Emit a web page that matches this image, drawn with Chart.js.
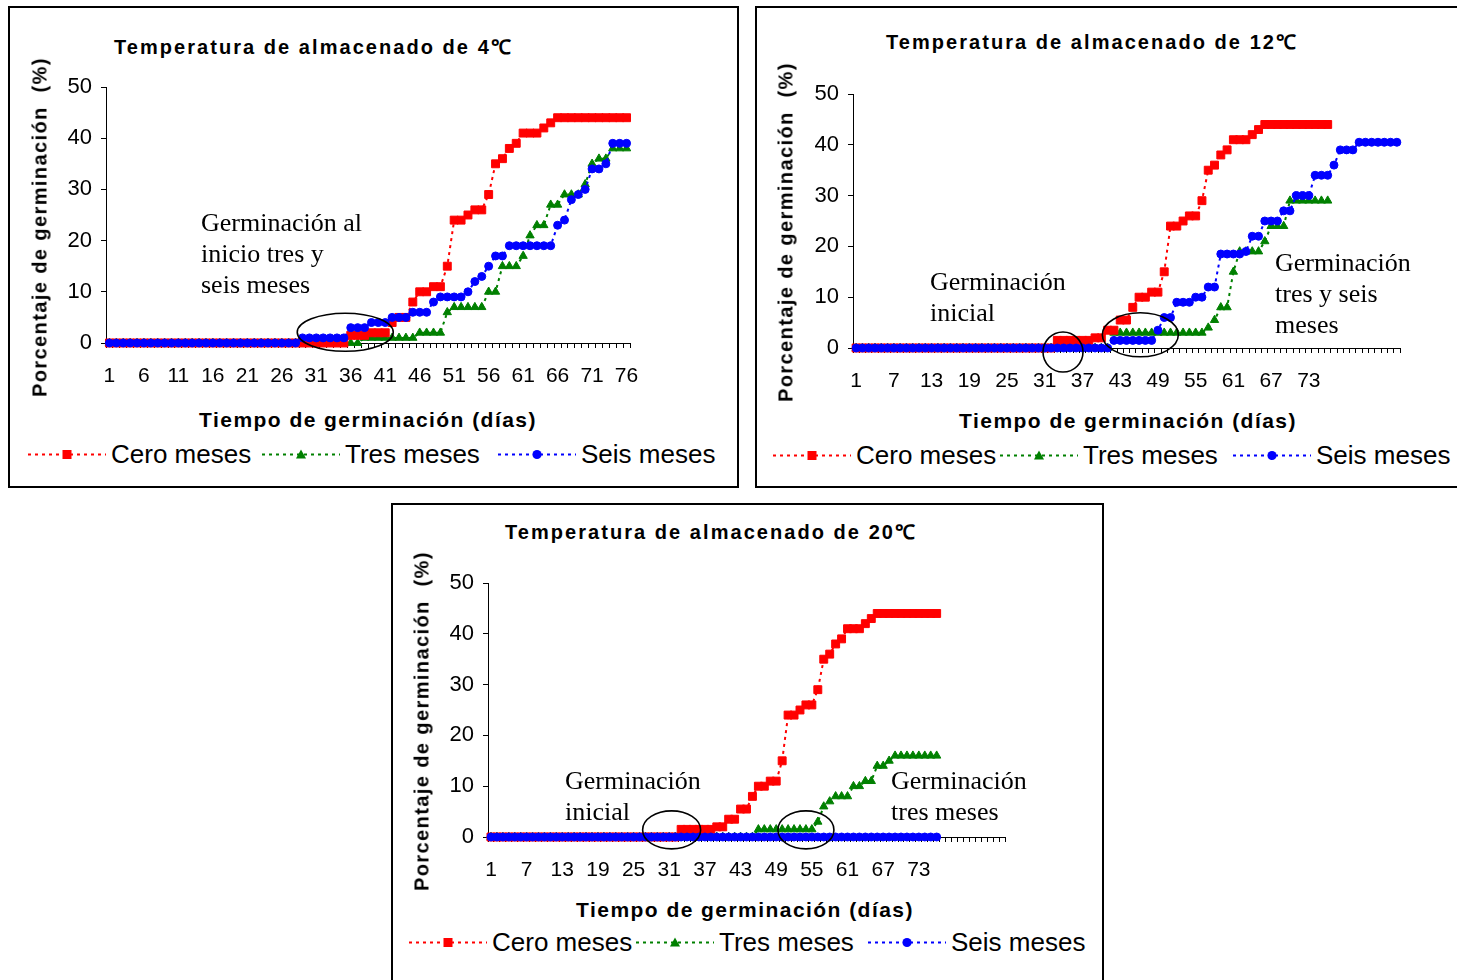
<!DOCTYPE html>
<html lang="es">
<head>
<meta charset="utf-8">
<title>Porcentaje de germinación</title>
<script src="https://cdn.jsdelivr.net/npm/chart.js@4.4.1/dist/chart.umd.min.js"></script>
<style>
  html, body { margin: 0; padding: 0; background: #fff; }
  body { width: 1457px; height: 980px; position: relative; overflow: hidden; font-family: 'Liberation Sans', Arial, sans-serif; color: #000; }
  .caja { position: absolute; border: 2px solid #000; box-sizing: border-box; }
  .lienzo { position: absolute; }
  .titulo { position: absolute; font-weight: bold; font-size: 20px; letter-spacing: 2.05px; white-space: nowrap; transform: translateY(-50%); }
  .ejeX { position: absolute; font-weight: bold; font-size: 21px; letter-spacing: 1.45px; white-space: nowrap; transform: translate(-50%, -50%); }
  .ejeY { position: absolute; font-weight: bold; font-size: 20px; letter-spacing: 1.4px; white-space: pre; transform: translate(-50%, -50%) rotate(-90deg); }
  .nota { position: absolute; font-family: 'Liberation Serif', 'Times New Roman', serif; font-size: 26px; line-height: 31px; white-space: nowrap; }
  .item { position: absolute; display: flex; align-items: center; font-size: 26px; white-space: nowrap; transform: translateY(-50%); }
  .item svg { margin-right: 5px; }
</style>
</head>
<body>
<div class="caja" style="left:8px; top:6px; width:731px; height:482px;"></div>
<div class="caja" style="left:755px; top:6px; width:720px; height:482px;"></div>
<div class="caja" style="left:391px; top:503px; width:713px; height:490px;"></div>

<script>
// dias de germinacion (categorias)
const dias4C = Array.from({ length: 76 }, (_, i) => String(i + 1));
const dias12C = Array.from({ length: 87 }, (_, i) => String(i + 1));
const dias20C = Array.from({ length: 87 }, (_, i) => String(i + 1));

// etiquetas visibles del eje X
const etiquetas4C = ['1', '6', '11', '16', '21', '26', '31', '36', '41', '46', '51', '56', '61', '66', '71', '76'];
const etiquetas12C = ['1', '7', '13', '19', '25', '31', '37', '43', '49', '55', '61', '67', '73'];
const etiquetas20C = ['1', '7', '13', '19', '25', '31', '37', '43', '49', '55', '61', '67', '73'];

const nombres = ['Cero meses', 'Tres meses', 'Seis meses'];

// 4 C
const cero4C = [0,0,0,0,0,0,0,0,0,0, 0,0,0,0,0,0,0,0,0,0, 0,0,0,0,0,0,0,0,0,0, 0,0,0,0,0,
  1.5,1.5,1.5, 2,2,2, 4,5,5, 8,10,10,11,11,15, 24,24,25,26,26,29,35,36,38,39,
  41,41,41,42,43, 44,44,44,44,44,44,44,44,44,44,44];
const tres4C = [0,0,0,0,0,0,0,0,0,0, 0,0,0,0,0,0,0,0,0,0, 0,0,0,0,0,0,0,0,0,0, 0,0,0,0,0,0,0,
  1,1,1,1,1,1,1,1, 2,2,2,2, 6, 7,7,7,7,7, 10,10, 15,15,15, 17, 21, 23,23, 27,27,
  29,29,29, 31, 35, 36,36, 38,38,38];
const seis4C = [0,0,0,0,0,0,0,0,0,0, 0,0,0,0,0,0,0,0,0,0, 0,0,0,0,0,0,0,0,
  1,1,1,1,1,1,1, 3,3,3, 4,4,4, 5,5,5, 6,6,6, 8, 9,9,9,9, 10, 12, 13, 15, 17,17,
  19,19,19,19,19,19,19, 23, 24, 28, 29, 30, 34, 34, 35, 39,39,39];

// 12 C
const cero12C = [0,0,0,0,0,0,0,0,0,0, 0,0,0,0,0,0,0,0,0,0, 0,0,0,0,0,0,0,0,0,0, 0,0,
  1.5,1.5,1.5,1.5,1.5,1.5, 2,2, 3.5,3.5, 5.5,5.5, 8, 10,10, 11,11, 15, 24,24, 25, 26,26,
  29, 35, 36, 38, 39, 41,41,41, 42, 43, 44,44,44,44,44,44,44,44,44,44,44];
const tres12C = [0,0,0,0,0,0,0,0,0,0, 0,0,0,0,0,0,0,0,0,0, 0,0,0,0,0,0,0,0,0,0, 0,0,0,0,0,0,0,0,0,0, 0,
  3,3,3,3,3,3,3,3,3,3,3,3,3,3,3, 4, 5.5, 8,8, 15, 19,19,19,19, 21, 24,24,24,
  29,29,29,29,29,29,29];
const seis12C = [0,0,0,0,0,0,0,0,0,0, 0,0,0,0,0,0,0,0,0,0, 0,0,0,0,0,0,0,0,0,0, 0,0,0,0,0,0,0,0,0,0, 0,
  1.5,1.5,1.5,1.5,1.5,1.5,1.5, 3.5, 6,6, 9,9,9, 10,10, 12,12, 18.5,18.5,18.5,18.5, 19,
  22,22, 25,25,25, 27,27, 30,30,30, 34,34,34, 36, 39,39,39,
  40.5,40.5,40.5,40.5,40.5,40.5,40.5];

// 20 C
const cero20C = [0,0,0,0,0,0,0,0,0,0, 0,0,0,0,0,0,0,0,0,0, 0,0,0,0,0,0,0,0,0,0, 0,0,
  1.5,1.5,1.5,1.5,1.5,1.5, 2,2, 3.5,3.5, 5.5,5.5, 8, 10,10, 11,11, 15, 24,24, 25, 26,26,
  29, 35, 36, 38, 39, 41,41,41, 42, 43, 44,44,44,44,44,44,44,44,44,44,44];
const tres20C = [0,0,0,0,0,0,0,0,0,0, 0,0,0,0,0,0,0,0,0,0, 0,0,0,0,0,0,0,0,0,0, 0,0,0,0,0,0,0,0,0,0, 0,0,0,0,0,
  1.5,1.5,1.5,1.5,1.5,1.5,1.5,1.5,1.5,1.5, 3, 6, 7, 8,8,8, 10,10, 11,11, 14,14, 15,
  16,16,16,16,16,16,16,16];
const seis20C = [0,0,0,0,0,0,0,0,0,0, 0,0,0,0,0,0,0,0,0,0, 0,0,0,0,0,0,0,0,0,0,
  0,0,0,0,0,0,0,0,0,0, 0,0,0,0,0,0,0,0,0,0, 0,0,0,0,0,0,0,0,0,0,
  0,0,0,0,0,0,0,0,0,0, 0,0,0,0,0,0];

// estilo de cada serie
const estilos = [
  { color: '#FF0000', punto: 'rect', radio: 5.6, orden: 1 },
  { color: '#008000', punto: 'triangle', radio: 4.8, orden: 2 },
  { color: '#0000FF', punto: 'circle', radio: 4, orden: 0 }
];

const fuente = "'Liberation Sans', Arial, sans-serif";

function pluginElipses(lista) {
  return {
    id: 'elipses',
    afterDatasetsDraw(chart) {
      const { ctx, scales: { x, y } } = chart;
      lista.forEach(e => {
        ctx.save();
        ctx.beginPath();
        ctx.ellipse(x.getPixelForValue(e.dia - 1), y.getPixelForValue(e.valor), e.rx, e.ry, 0, 0, Math.PI * 2);
        ctx.lineWidth = 1.6;
        ctx.strokeStyle = '#000';
        ctx.stroke();
        ctx.restore();
      });
    }
  };
}

function agregar(html) {
  document.body.insertAdjacentHTML('beforeend', html);
}

function muestra(i) {
  const c = estilos[i].color;
  let marca;
  if (i === 0) marca = `<rect x="34.5" y="5.5" width="9" height="9" fill="${c}"/>`;
  else if (i === 1) marca = `<polygon points="39,5 44,14 34,14" fill="${c}"/>`;
  else marca = `<circle cx="39" cy="10" r="4.6" fill="${c}"/>`;
  return `<svg width="78" height="20"><line x1="0" y1="10" x2="78" y2="10" stroke="${c}" stroke-width="2" stroke-dasharray="3,4"/>${marca}</svg>`;
}

function crearGrafico(cfg) {
  const izq = 70, arriba = 25, der = 30, abajo = 55;
  const canvas = document.createElement('canvas');
  canvas.className = 'lienzo';
  canvas.width = cfg.area.r - cfg.area.l + izq + der;
  canvas.height = cfg.area.b - cfg.area.t + arriba + abajo;
  canvas.style.left = (cfg.area.l - izq) + 'px';
  canvas.style.top = (cfg.area.t - arriba) + 'px';
  document.body.appendChild(canvas);

  new Chart(canvas, {
    type: 'line',
    data: {
      labels: cfg.dias,
      datasets: cfg.series.map((s, i) => ({
        label: nombres[i],
        data: s,
        borderColor: estilos[i].color,
        backgroundColor: estilos[i].color,
        borderWidth: 2,
        borderDash: [3, 4],
        pointStyle: estilos[i].punto,
        pointRadius: estilos[i].radio,
        pointHoverRadius: estilos[i].radio,
        pointBackgroundColor: estilos[i].color,
        pointBorderColor: estilos[i].color,
        pointBorderWidth: 1,
        fill: false,
        tension: 0,
        clip: false,
        order: estilos[i].orden
      }))
    },
    options: {
      responsive: false,
      animation: false,
      events: [],
      layout: { padding: { top: arriba, right: der, left: 0, bottom: 0 } },
      plugins: { legend: { display: false }, title: { display: false }, tooltip: { enabled: false } },
      scales: {
        x: {
          type: 'category',
          offset: true,
          afterFit: s => { s.height = abajo; },
          grid: { display: true, drawOnChartArea: false, offset: true, tickLength: 5, color: '#000', lineWidth: 1 },
          border: { display: true, color: '#000', width: 1 },
          ticks: {
            autoSkip: false, maxRotation: 0, minRotation: 0, padding: 16, color: '#000',
            font: { family: fuente, size: 21 },
            callback: function (v) {
              const t = this.getLabelForValue(v);
              return cfg.mostrar.includes(t) ? t : '';
            }
          }
        },
        y: {
          min: 0, max: 50,
          afterFit: s => { s.width = izq; },
          grid: { display: true, drawOnChartArea: false, tickLength: 5, color: '#000', lineWidth: 1 },
          border: { display: true, color: '#000', width: 1 },
          ticks: { stepSize: 10, padding: 9, color: '#000', font: { family: fuente, size: 22 } }
        }
      }
    },
    plugins: [pluginElipses(cfg.elipses)]
  });

  // textos
  agregar(`<div class="titulo" style="left:${cfg.titulo.x}px; top:${cfg.titulo.y}px;">${cfg.titulo.texto}</div>`);
  agregar(`<div class="ejeY" style="left:${cfg.ejeY.x}px; top:${cfg.ejeY.y}px;">Porcentaje de germinación  (%)</div>`);
  agregar(`<div class="ejeX" style="left:${cfg.ejeX.x}px; top:${cfg.ejeX.y}px;">Tiempo de germinación (días)</div>`);
  cfg.leyenda.xs.forEach((lx, i) => {
    agregar(`<div class="item" style="left:${lx}px; top:${cfg.leyenda.y}px;">${muestra(i)}<span>${nombres[i]}</span></div>`);
  });
  cfg.notas.forEach(n => {
    agregar(`<div class="nota" style="left:${n.x}px; top:${n.y}px;">${n.lineas.join('<br>')}</div>`);
  });
}

crearGrafico({
  dias: dias4C, mostrar: etiquetas4C, series: [cero4C, tres4C, seis4C],
  area: { l: 106, r: 630, t: 87, b: 343 },
  titulo: { x: 114, y: 46, texto: 'Temperatura de almacenado de 4℃' },
  ejeY: { x: 40, y: 227 }, ejeX: { x: 368, y: 420 },
  leyenda: { y: 454, xs: [28, 262, 498] },
  notas: [{ x: 201, y: 207, lineas: ['Germinación al', 'inicio tres y', 'seis meses'] }],
  elipses: [{ dia: 35.2, valor: 2.1, rx: 48, ry: 19 }]
});

crearGrafico({
  dias: dias12C, mostrar: etiquetas12C, series: [cero12C, tres12C, seis12C],
  area: { l: 853, r: 1400, t: 94, b: 348 },
  titulo: { x: 886, y: 41, texto: 'Temperatura de almacenado de 12℃' },
  ejeY: { x: 786, y: 232 }, ejeX: { x: 1128, y: 421 },
  leyenda: { y: 455, xs: [773, 1000, 1233] },
  notas: [
    { x: 930, y: 266, lineas: ['Germinación', 'inicial'] },
    { x: 1275, y: 247, lineas: ['Germinación', 'tres y seis', 'meses'] }
  ],
  elipses: [{ dia: 33.9, valor: -0.8, rx: 20, ry: 20 }, { dia: 46.2, valor: 2.6, rx: 38, ry: 22 }]
});

crearGrafico({
  dias: dias20C, mostrar: etiquetas20C, series: [cero20C, tres20C, seis20C],
  area: { l: 488, r: 1005, t: 583, b: 837 },
  titulo: { x: 505, y: 531, texto: 'Temperatura de almacenado de 20℃' },
  ejeY: { x: 422, y: 721 }, ejeX: { x: 745, y: 910 },
  leyenda: { y: 942, xs: [409, 636, 868] },
  notas: [
    { x: 565, y: 765, lineas: ['Germinación', 'inicial'] },
    { x: 891, y: 765, lineas: ['Germinación', 'tres meses'] }
  ],
  elipses: [{ dia: 31.4, valor: 1.4, rx: 29, ry: 19 }, { dia: 54, valor: 1.4, rx: 28, ry: 19 }]
});
</script>
</body>
</html>
